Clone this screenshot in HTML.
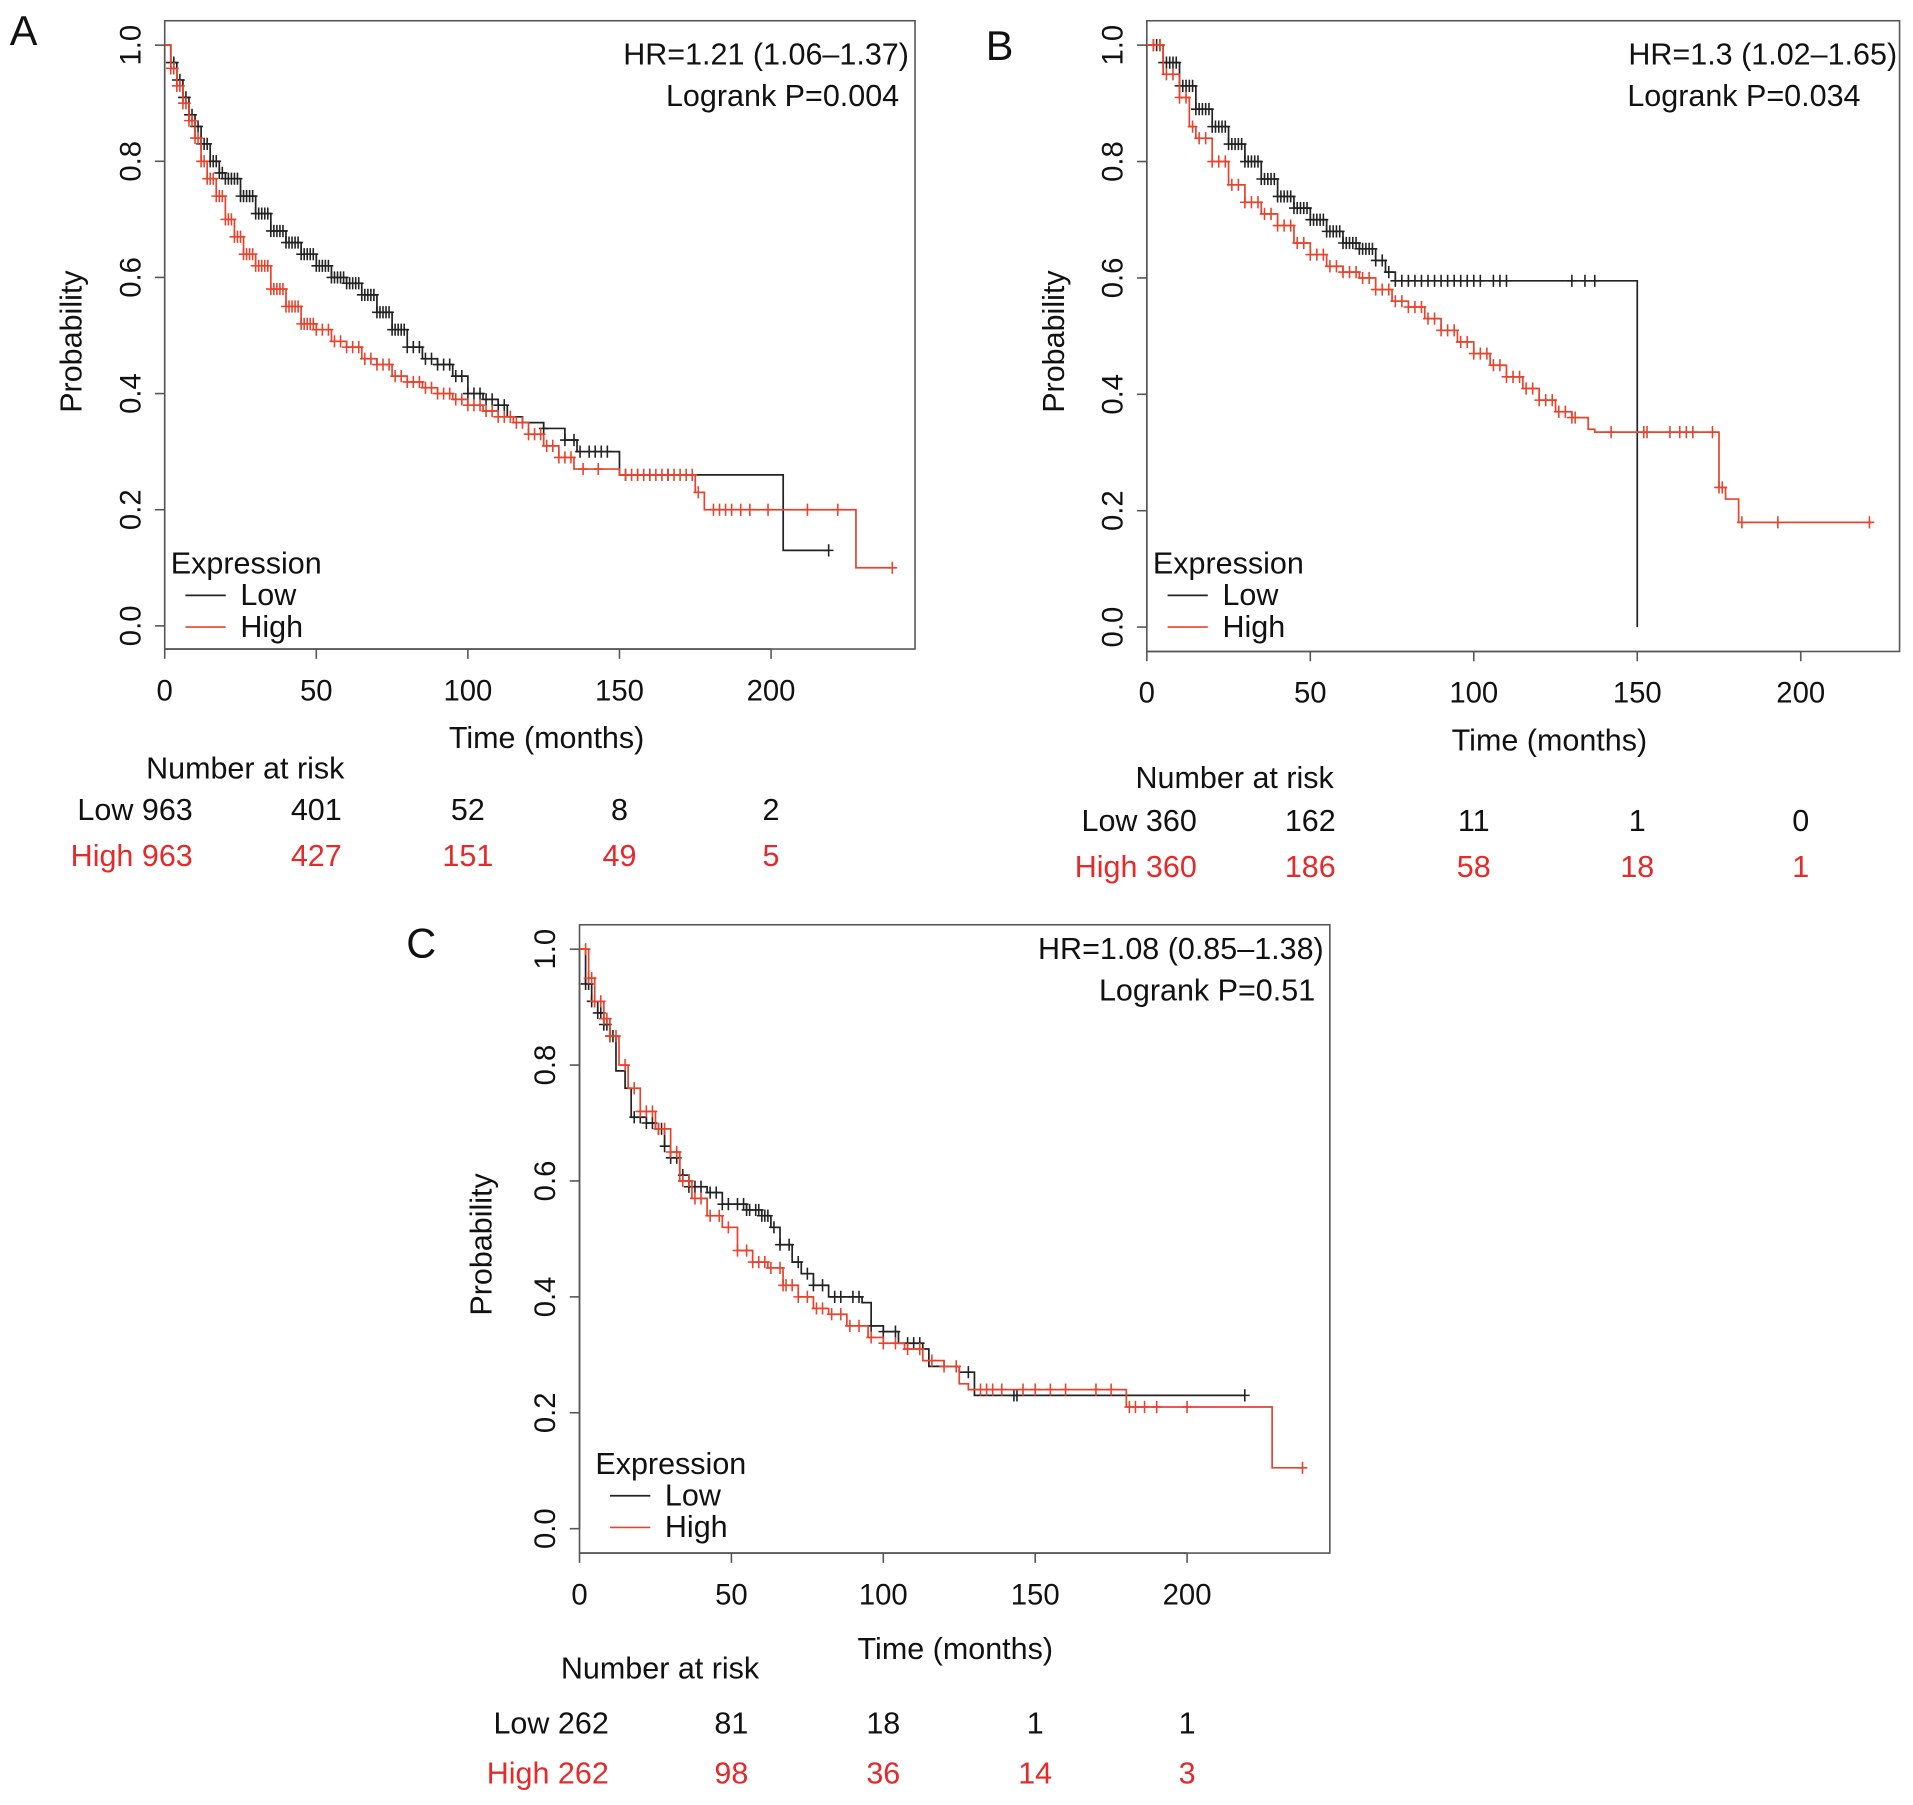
<!DOCTYPE html>
<html><head><meta charset="utf-8"><style>
html,body{margin:0;padding:0;background:#fff}
svg{display:block}
text{font-family:"Liberation Sans",Arial,sans-serif}
</style></head><body>
<svg id="fig" width="1913" height="1805" viewBox="0 0 1568 1479.5" xmlns="http://www.w3.org/2000/svg"></svg>
<script>
// ---- data ----
const xTicks=[0,50,100,150,200];
const yTicks=[0,0.2,0.4,0.6,0.8,1.0];
const yTickLabels=["0.0","0.2","0.4","0.6","0.8","1.0"];
// Panel A
const aLowT=[0,2,4,6,8,10,12,15,18,20,25,30,35,40,45,50,55,60,65,70,75,80,85,90,95,100,105,110,113,118,125,132,136,150,204,219];
const aLowS=[1,0.97,0.94,0.91,0.88,0.86,0.83,0.80,0.78,0.77,0.74,0.71,0.68,0.66,0.64,0.62,0.60,0.59,0.57,0.54,0.51,0.48,0.46,0.45,0.43,0.40,0.39,0.38,0.36,0.35,0.34,0.32,0.30,0.26,0.13,0.13];
const aHighT=[0,2,4,6,8,10,12,14,17,20,23,26,30,35,40,45,50,55,60,65,70,75,80,85,90,95,100,105,110,115,120,125,130,135,150,175,178,228,240];
const aHighS=[1,0.96,0.93,0.90,0.87,0.84,0.80,0.77,0.74,0.70,0.67,0.64,0.62,0.58,0.55,0.52,0.51,0.49,0.48,0.46,0.45,0.43,0.42,0.41,0.40,0.39,0.38,0.37,0.36,0.35,0.33,0.31,0.29,0.27,0.26,0.23,0.20,0.10,0.10];
const aLowC=[2,3,4,5,6,7,8,9,10,11,12,13,14,15,16,17,18,19,20,21,22,23,24,25,26,27,28,29,30,31,32,33,34,35,36,37,38,39,40,41,42,43,44,45,46,47,48,49,50,51,52,53,54,55,56,57,58,59,60,61,62,63,64,65,66,67,68,69,70,71,72,73,74,75,76,77,78,79,80,82,84,86,88,90,92,94,96,98,100,102,104,106,108,110,112,125,132,135,137,140,142,144,146,152,156,160,166,219];
const aHighC=[2,3,4,5,6,7,8,9,10,11,12,13,14,15,16,17,18,19,20,21,22,23,24,25,26,27,28,29,30,31,32,33,34,35,36,37,38,39,40,41,42,43,44,45,46,47,48,49,50,52,54,56,58,60,62,64,66,68,70,72,74,76,78,80,82,84,86,88,90,92,94,96,98,100,102,104,106,108,110,112,114,116,118,120,122,124,126,128,130,132,134,138,143,152,154,156,158,160,162,164,166,168,170,172,174,176,181,183,185,187,190,193,199,212,222,240];
// Panel B
const bLowT=[0,5,10,15,20,25,30,35,40,45,50,55,60,65,70,73,76,150,150];
const bLowS=[1,0.97,0.93,0.89,0.86,0.83,0.80,0.77,0.74,0.72,0.70,0.68,0.66,0.65,0.63,0.61,0.595,0.595,0];
const bHighT=[0,5,10,13,15,20,25,30,35,40,45,50,55,60,65,70,75,80,85,90,95,100,105,110,115,120,125,130,135,137,175,177,181,222];
const bHighS=[1,0.95,0.91,0.86,0.84,0.80,0.76,0.73,0.71,0.69,0.66,0.64,0.62,0.61,0.60,0.58,0.56,0.55,0.53,0.51,0.49,0.47,0.45,0.43,0.41,0.39,0.37,0.36,0.34,0.335,0.24,0.22,0.18,0.18];
const bLowC=[2,3,4,5,6,7,8,9,10,11,12,13,14,15,16,17,18,19,20,21,22,23,24,25,26,27,28,29,30,31,32,33,34,35,36,37,38,39,40,41,42,43,44,45,46,47,48,49,50,51,52,53,54,55,56,57,58,59,60,61,62,63,64,65,66,67,68,69,70,72,74,76,78,80,82,84,86,88,90,92,94,96,98,100,102,106,108,110,130,134,137];
const bHighC=[2,4,6,8,10,12,14,16,18,20,22,24,26,28,30,32,34,36,38,40,42,44,46,48,50,52,54,56,58,60,62,64,66,68,70,72,74,76,78,80,82,84,86,88,90,92,94,96,98,100,102,104,106,108,110,112,114,116,118,120,122,124,126,128,130,131,142,152,153,160,163,165,167,173,175,176,182,193,221];
// Panel C
const cLowT=[0,2,4,6,8,10,12,15,17,22,25,28,30,33,36,42,47,55,60,63,66,70,73,77,82,93,96,100,105,113,115,125,130,219];
const cLowS=[1,0.94,0.91,0.89,0.87,0.85,0.79,0.76,0.71,0.70,0.69,0.66,0.64,0.61,0.59,0.58,0.56,0.55,0.54,0.52,0.49,0.46,0.44,0.42,0.40,0.39,0.35,0.34,0.32,0.31,0.28,0.27,0.23,0.23];
const cHighT=[0,3,5,8,10,13,16,20,25,30,33,37,42,47,52,57,62,67,72,77,82,88,95,100,107,113,120,125,128,180,228,238];
const cHighS=[1,0.95,0.91,0.88,0.85,0.80,0.76,0.72,0.69,0.65,0.60,0.57,0.54,0.52,0.48,0.46,0.45,0.42,0.40,0.38,0.37,0.35,0.33,0.32,0.31,0.29,0.28,0.25,0.24,0.21,0.105,0.105];
const cLowC=[2,3,4,5,6,7,8,9,10,11,18,20,22,24,26,27,28,30,32,34,36,38,40,43,45,47,49,52,54,55,56,58,59,60,61,62,64,66,69,72,75,77,80,84,86,90,92,96,100,104,108,110,112,128,143,144,219];
const cHighC=[2,3,4,5,7,8,9,10,12,15,18,20,22,24,26,28,30,32,34,36,38,40,43,46,49,52,55,57,59,61,63,66,67,68,70,72,75,78,80,83,86,89,92,96,100,104,108,112,116,120,124,132,134,136,139,146,150,155,160,170,175,181,183,186,190,200,238];
const riskA=[["Low 963","401","52","8","2"],["High 963","427","151","49","5"]];
const riskB=[["Low 360","162","11","1","0"],["High 360","186","58","18","1"]];
const riskC=[["Low 262","81","18","1","1"],["High 262","98","36","14","3"]];

const svg=document.getElementById('fig');
const NS='http://www.w3.org/2000/svg';
const BLACK='#222', RED='#e8432d', RTXT='#e42a2a';
function mk(tag,attrs,parent){const e=document.createElementNS(NS,tag);for(const k in attrs)e.setAttribute(k,attrs[k]);(parent||svg).appendChild(e);return e;}
function txt(s,x,y,size,anchor,fill,rot){const t=mk('text',{x:x,y:y,'font-size':size,'text-anchor':anchor||'start',fill:fill||'#111'});if(rot)t.setAttribute('transform','rotate(-90 '+x+' '+y+')');t.textContent=s;return t;}

function panel(P){
  const g=mk('g',{});
  
  
  const X=v=>P.x0+(P.x200-P.x0)*v/200;
  const Y=v=>P.y0+(P.y1-P.y0)*v;
  const box=mk('rect',{x:P.bx,y:P.by,width:P.bw,height:P.bh,fill:'none',stroke:'#555','stroke-width':1.3},g);
  
  
  const lb=txt(P.id.toUpperCase(),P.lx,P.ly,34,'start','#111');
  
  
  xTicks.forEach(v=>{
    mk('line',{x1:X(v),x2:X(v),y1:P.by+P.bh,y2:P.by+P.bh+8,stroke:'#555','stroke-width':1.3},g);
    const t=txt(String(v),X(v),P.by+P.bh+42,24,'middle');
    
    
  });
  mk('line',{x1:X(0),x2:X(200),y1:P.by+P.bh,y2:P.by+P.bh,stroke:'#555','stroke-width':1.3},g);
  yTicks.forEach((v,i)=>{
    mk('line',{x1:P.bx,x2:P.bx-8,y1:Y(v),y2:Y(v),stroke:'#555','stroke-width':1.3},g);
    const t=txt(yTickLabels[i],P.bx-20,Y(v),24,'middle','#111',true);
    
    
  });
  mk('line',{x1:P.bx,x2:P.bx,y1:Y(0),y2:Y(1),stroke:'#555','stroke-width':1.3},g);
  const xt=txt('Time (months)',P.xtx,P.xty,25,'middle');
  
  
  const yt=txt('Probability',P.ytx,P.yty,25,'middle','#111',true);
  
  
  const h1=txt(P.hr,P.hx,P.hy,25,'end');
  
  
  const h2=txt(P.lr,P.hx2,P.hy+34,25,'end');
  
  
  [[P.lowT,P.lowS,P.lowC,BLACK,'low'],[P.highT,P.highS,P.highC,RED,'high']].forEach(([T,S,C,col,nm])=>{
    let d='M'+X(T[0])+' '+Y(S[0]);
    for(let i=1;i<T.length;i++){d+=' H'+X(T[i])+' V'+Y(S[i]);}
    const p=mk('path',{d:d,fill:'none',stroke:col,'stroke-width':1.4},g);
    
    
    const sAt=t=>{let s=S[0];for(let i=0;i<T.length;i++){if(T[i]<=t)s=S[i];}return s;};
    let cd='';
    C.forEach(t=>{const cx=X(t),cy=Y(sAt(t));cd+='M'+(cx-4)+' '+cy+' H'+(cx+4)+' M'+cx+' '+(cy-5)+' V'+(cy+5)+' ';});
    const cp=mk('path',{d:cd,fill:'none',stroke:col,'stroke-width':1.3},g);
    
    
  });
  const lg=mk('g',{},g);
  
  
  const lt=txt('Expression',P.gx,P.gy,25,'start','#111');
  
  
  mk('line',{x1:P.gx+12,x2:P.gx+45,y1:P.gy+18,y2:P.gy+18,stroke:BLACK,'stroke-width':1.4},lg);
  const l1=txt('Low',P.gx+57,P.gy+26,25,'start','#111');
  
  
  mk('line',{x1:P.gx+12,x2:P.gx+45,y1:P.gy+44,y2:P.gy+44,stroke:RED,'stroke-width':1.4},lg);
  const l2=txt('High',P.gx+57,P.gy+52,25,'start','#111');
  
  
  const rt=txt('Number at risk',P.rnx,P.rny,25,'middle');
  
  
  P.risk.forEach((row,ri)=>{
    const col=ri===0?'#111':RTXT, yy=P.rr[ri];
    const a=txt(row[0],P.rlx,yy,25,'end',col);
    
    
    for(let k=1;k<row.length;k++){
      const t=txt(row[k],X(xTicks[k]),yy,25,'middle',col);
      
      
    }
  });
}
panel({id:'a',bx:135,by:17,bw:615,bh:515,x0:135,x200:632,y0:513,y1:37,lx:8,ly:37,
  hr:'HR=1.21 (1.06\u20131.37)',lr:'Logrank P=0.004',hx:745,hx2:737,hy:53,
  xtx:448,xty:613,ytx:67,yty:280,gx:140,gy:470,
  lowT:aLowT,lowS:aLowS,lowC:aLowC,highT:aHighT,highS:aHighS,highC:aHighC,
  risk:riskA,rnx:201,rny:638,rlx:158,rr:[672,710]});
panel({id:'b',bx:940,by:17,bw:617,bh:517,x0:940,x200:1476,y0:514,y1:37,lx:808,ly:49,
  hr:'HR=1.3 (1.02\u20131.65)',lr:'Logrank P=0.034',hx:1555,hx2:1525,hy:53,
  xtx:1270,xty:615,ytx:872,yty:280,gx:945,gy:470,
  lowT:bLowT,lowS:bLowS,lowC:bLowC,highT:bHighT,highS:bHighS,highC:bHighC,
  risk:riskB,rnx:1012,rny:646,rlx:981,rr:[681,719]});
panel({id:'c',bx:475,by:758,bw:615,bh:515,x0:475,x200:973,y0:1253,y1:778,lx:333,ly:785,
  hr:'HR=1.08 (0.85\u20131.38)',lr:'Logrank P=0.51',hx:1085,hx2:1078,hy:786,
  xtx:783,xty:1360,ytx:403,yty:1020,gx:488,gy:1208,
  lowT:cLowT,lowS:cLowS,lowC:cLowC,highT:cHighT,highS:cHighS,highC:cHighC,
  risk:riskC,rnx:541,rny:1376,rlx:499,rr:[1421,1462]});
</script>
</body></html>
